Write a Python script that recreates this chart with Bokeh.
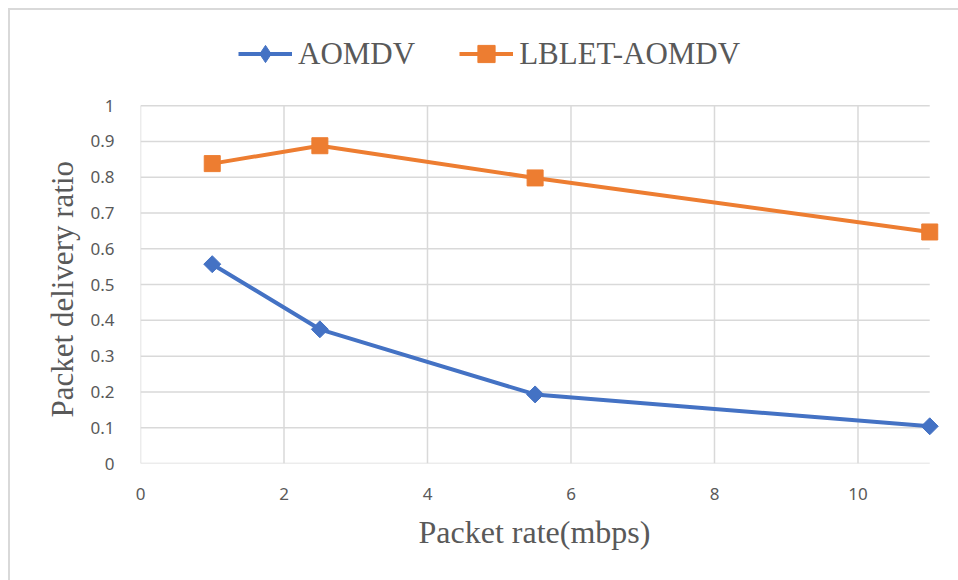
import math
from bokeh.plotting import figure
from bokeh.models import Range1d, Legend, LegendItem, FixedTicker, Spacer, Title
from bokeh.layouts import row, column
from bokeh.embed import file_html
from bokeh.resources import INLINE

x_vals = [1, 2.5, 5.5, 11]
aomdv = [0.557, 0.375, 0.193, 0.104]
lblet = [0.838, 0.888, 0.798, 0.647]
x_ticks = [0, 2, 4, 6, 8, 10]
x_max = 11
y_ticks = [0, 0.1, 0.2, 0.3, 0.4, 0.5, 0.6, 0.7, 0.8, 0.9, 1]
y_max = 1
y_labels = ["0", "0.1", "0.2", "0.3", "0.4", "0.5", "0.6", "0.7", "0.8", "0.9", "1"]

BLUE = "#4472C4"
ORANGE = "#ED7D31"
GRID = "#d9d9d9"
TXT = "#595959"

p = figure(frame_width=798, frame_height=431, output_backend="svg", toolbar_location=None,
           x_range=Range1d(0, 11.15), y_range=Range1d(0, 1.21),
           min_border_left=130, min_border_right=20, min_border_top=20, min_border_bottom=119,
           styles={"border-left": "2px solid #d9d9d9", "border-top": "2px solid #d9d9d9"})
p.outline_line_color = None
p.background_fill_color = "white"
p.xgrid.grid_line_color = None
p.ygrid.grid_line_color = None

# gridlines limited to the plot area [0, 11] x [0, 1]
p.segment(x0=[0] * len(y_ticks), x1=[x_max] * len(y_ticks), y0=y_ticks, y1=y_ticks,
          line_color=GRID, line_width=1.5)
p.segment(x0=x_ticks, x1=x_ticks, y0=[0] * len(x_ticks), y1=[y_max] * len(x_ticks),
          line_color=GRID, line_width=1.5)

p.xaxis.ticker = FixedTicker(ticks=x_ticks)
p.yaxis.ticker = FixedTicker(ticks=y_ticks)
p.yaxis.major_label_overrides = {t: s for t, s in zip(y_ticks, y_labels)}
for ax in (p.xaxis, p.yaxis):
    ax.major_tick_line_color = None
    ax.minor_tick_line_color = None
    ax.axis_line_color = None
    ax.major_label_text_font = "Noto Sans"
    ax.major_label_text_font_size = "17px"
    ax.major_label_text_color = TXT
p.xaxis.major_label_standoff = 18
p.yaxis.major_label_standoff = 20

# axis titles (positioned along the [0,11]x[0,1] plot area)
ytitle = Title(text="Packet delivery ratio", align="left", offset=46, standoff=16,
               text_font="Liberation Serif", text_font_size="31px",
               text_font_style="normal", text_color=TXT)
p.add_layout(ytitle, "left")
xtitle = Title(text="Packet rate(mbps)", align="left", offset=278, standoff=19,
               text_font="Liberation Serif", text_font_size="32px",
               text_font_style="normal", text_color=TXT)
p.add_layout(xtitle, "below")

l1 = p.line(x_vals, aomdv, line_color=BLUE, line_width=4)
m1 = p.scatter(x_vals, aomdv, marker="square", angle=math.pi / 4, size=12,
               fill_color=BLUE, line_color=BLUE)
# same points, diamond shape used only for the legend swatch (legend swatches are never rotated)
m1_key = p.scatter(x_vals, aomdv, marker="diamond", size=12,
                   fill_color=BLUE, line_color=BLUE, visible=False)
l2 = p.line(x_vals, lblet, line_color=ORANGE, line_width=4)
m2 = p.scatter(x_vals, lblet, marker="square", size=16,
               fill_color=ORANGE, line_color=ORANGE)

legend = Legend(items=[LegendItem(label="AOMDV", renderers=[l1, m1_key]),
                       LegendItem(label="LBLET-AOMDV", renderers=[l2, m2])],
                orientation="horizontal", location=(98, 388))
legend.label_text_font = "Liberation Serif"
legend.label_text_font_size = "31px"
legend.label_text_color = TXT
legend.glyph_width = 54
legend.glyph_height = 43
legend.label_standoff = 6
legend.spacing = 44
legend.border_line_color = None
legend.background_fill_alpha = 0
legend.margin = 0
legend.padding = 0
p.add_layout(legend, "center")

layout = column(Spacer(height=8), row(Spacer(width=8), p))
open("out.html", "w").write(file_html(layout, INLINE))
